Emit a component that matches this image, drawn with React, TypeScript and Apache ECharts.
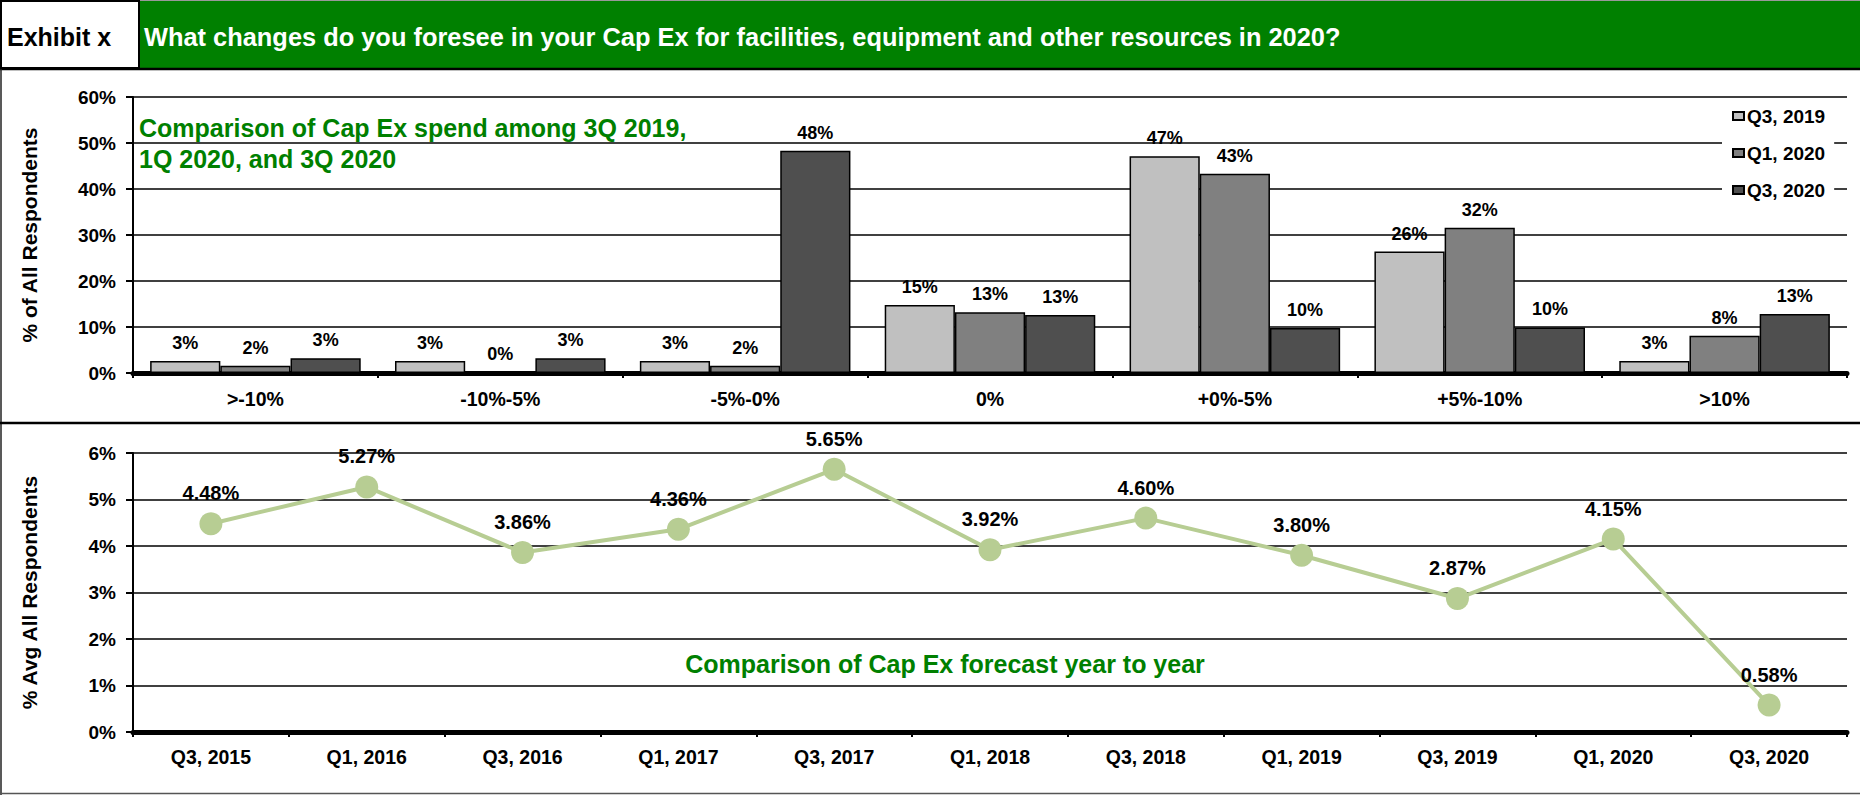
import React, { useEffect, useRef } from "react";
import * as echarts from "echarts";

const barCategories = [">-10%", "-10%-5%", "-5%-0%", "0%", "+0%-5%", "+5%-10%", ">10%"];
const seriesNames = ["Q3, 2019", "Q1, 2020", "Q3, 2020"];
const q3_2019 = [2.6, 2.6, 2.6, 14.8, 47.1, 26.4, 2.6];
const q1_2020 = [1.6, 0, 1.6, 13.2, 43.3, 31.6, 8.1];
const q3_2020 = [3.2, 3.2, 48.3, 12.6, 9.8, 9.9, 12.8];
const barColors = ["#c0c0c0", "#808080", "#4f4f4f"];

const lineCategories = [
  "Q3, 2015", "Q1, 2016", "Q3, 2016", "Q1, 2017", "Q3, 2017", "Q1, 2018",
  "Q3, 2018", "Q1, 2019", "Q3, 2019", "Q1, 2020", "Q3, 2020",
];
const avgCapEx = [4.48, 5.27, 3.86, 4.36, 5.65, 3.92, 4.6, 3.8, 2.87, 4.15, 0.58];

const FONT = "'Liberation Sans', Arial, Helvetica, sans-serif";
const W = 1860;
const H = 795;

export default function App() {
  const ref = useRef<HTMLDivElement>(null);
  useEffect(() => {
    document.body.style.margin = "0";
    if (!ref.current) return;
    const chart = echarts.init(ref.current, null, { renderer: "svg" });
    const xLabel = { color: "#000", fontFamily: FONT, fontWeight: "bold", fontSize: 19.5 };
    const yLabel = { color: "#000", fontFamily: FONT, fontWeight: "bold", fontSize: 19 };
    const axisName = { color: "#000", fontFamily: FONT, fontWeight: "bold", fontSize: 21 };
    const barData = [q3_2019, q1_2020, q3_2020];
    chart.setOption({
      animation: false,
      backgroundColor: "#fff",
      textStyle: { fontFamily: FONT },
      grid: [
        { left: 133, right: 13, top: 97, height: 276, containLabel: false },
        { left: 133, right: 13, top: 453, height: 279, containLabel: false },
      ],
      legend: {
        data: seriesNames,
        orient: "vertical",
        left: 1722,
        top: 101,
        padding: [5, 9, 5, 10],
        backgroundColor: "#fff",
        itemGap: 17,
        itemWidth: 11,
        itemHeight: 8,
        icon: "rect",
        textStyle: { color: "#000", fontFamily: FONT, fontWeight: "bold", fontSize: 19, lineHeight: 20, padding: [0, 0, 0, -2] },
      },
      xAxis: [
        {
          type: "category",
          gridIndex: 0,
          data: barCategories,
          axisLine: { lineStyle: { color: "#000", width: 5 } },
          axisTick: { show: true, length: 5, lineStyle: { color: "#000", width: 2 } },
          axisLabel: { ...xLabel, margin: 16 },
        },
        {
          type: "category",
          gridIndex: 1,
          data: lineCategories,
          axisLine: { lineStyle: { color: "#000", width: 5 } },
          axisTick: { show: true, length: 5, lineStyle: { color: "#000", width: 2 } },
          axisLabel: { ...xLabel, margin: 15 },
        },
      ],
      yAxis: [
        {
          type: "value",
          gridIndex: 0,
          min: 0,
          max: 60,
          interval: 10,
          name: "% of All Respondents",
          nameLocation: "middle",
          nameRotate: 90,
          nameGap: 93,
          nameTextStyle: axisName,
          axisLine: { show: true, lineStyle: { color: "#000", width: 2 } },
          axisTick: { show: true, length: 7, lineStyle: { color: "#000", width: 2 } },
          splitLine: { show: true, lineStyle: { color: "#000", width: 1.5 } },
          axisLabel: { ...yLabel, margin: 17, formatter: "{value}%" },
        },
        {
          type: "value",
          gridIndex: 1,
          min: 0,
          max: 6,
          interval: 1,
          name: "% Avg All Respondents",
          nameLocation: "middle",
          nameRotate: 90,
          nameGap: 93,
          nameTextStyle: axisName,
          axisLine: { show: true, lineStyle: { color: "#000", width: 2 } },
          axisTick: { show: true, length: 7, lineStyle: { color: "#000", width: 2 } },
          splitLine: { show: true, lineStyle: { color: "#000", width: 1.5 } },
          axisLabel: { ...yLabel, margin: 17, formatter: "{value}%" },
        },
      ],
      series: [
        ...seriesNames.map((name, i) => ({
          type: "bar",
          name,
          xAxisIndex: 0,
          yAxisIndex: 0,
          data: barData[i],
          barGap: "0%",
          barCategoryGap: "14%",
          itemStyle: { color: barColors[i], borderColor: "#000", borderWidth: 1.5 },
          label: {
            show: true,
            position: "top",
            distance: 9,
            color: "#000",
            fontFamily: FONT,
            fontWeight: "bold",
            fontSize: 18,
            formatter: (p: any) => Math.round(p.value) + "%",
          },
        })),
        {
          type: "line",
          name: "Avg",
          xAxisIndex: 1,
          yAxisIndex: 1,
          data: avgCapEx,
          symbol: "circle",
          symbolSize: 23,
          lineStyle: { color: "#b7cd93", width: 4 },
          itemStyle: { color: "#b7cd93" },
          label: {
            show: true,
            position: "top",
            distance: 9,
            color: "#000",
            fontFamily: FONT,
            fontWeight: "bold",
            fontSize: 20,
            formatter: (p: any) => Number(p.value).toFixed(2) + "%",
          },
        },
      ],
      graphic: [
        { type: "line", shape: { x1: 0, y1: 0.5, x2: W, y2: 0.5 }, style: { stroke: "#999", lineWidth: 1 } },
        { type: "rect", shape: { x: 140, y: 1, width: W - 140, height: 67 }, style: { fill: "#008000" } },
        { type: "rect", shape: { x: 1, y: 1, width: 138, height: 67 }, style: { fill: "#fff", stroke: "#000", lineWidth: 2 } },
        { type: "line", shape: { x1: 0, y1: 69, x2: W, y2: 69 }, style: { stroke: "#000", lineWidth: 2.5 } },
        {
          type: "text", x: 7, y: 37,
          style: { text: "Exhibit x", fill: "#000", font: `bold 25px ${FONT}`, textVerticalAlign: "middle", verticalAlign: "middle" },
        },
        {
          type: "text", x: 144, y: 37,
          style: {
            text: "What changes do you foresee in your Cap Ex for facilities, equipment and other resources in 2020?",
            fill: "#fff", font: `bold 25.4px ${FONT}`, textVerticalAlign: "middle", verticalAlign: "middle",
          },
        },
        { type: "line", shape: { x1: 1, y1: 69, x2: 1, y2: H }, style: { stroke: "#222", lineWidth: 1.5 } },
        { type: "line", shape: { x1: 0, y1: 423, x2: W, y2: 423 }, style: { stroke: "#000", lineWidth: 2.5 } },
        { type: "line", shape: { x1: 0, y1: 793.5, x2: W, y2: 793.5 }, style: { stroke: "#555", lineWidth: 1.5 } },
        {
          type: "text", x: 139, y: 128, z: 10,
          style: { text: "Comparison of Cap Ex spend among 3Q 2019,", fill: "#008000", font: `bold 25px ${FONT}`, textVerticalAlign: "middle", verticalAlign: "middle" },
        },
        {
          type: "text", x: 139, y: 159, z: 10,
          style: { text: "1Q 2020, and 3Q 2020", fill: "#008000", font: `bold 25px ${FONT}`, textVerticalAlign: "middle", verticalAlign: "middle" },
        },
        {
          type: "text", x: 945, y: 664, z: 10,
          style: { text: "Comparison of Cap Ex forecast year to year", fill: "#008000", font: `bold 25px ${FONT}`, textAlign: "center", align: "center", textVerticalAlign: "middle", verticalAlign: "middle" },
        },
      ],
    });
    return () => chart.dispose();
  }, []);
  return <div ref={ref} style={{ width: W, height: H }} />;
}
